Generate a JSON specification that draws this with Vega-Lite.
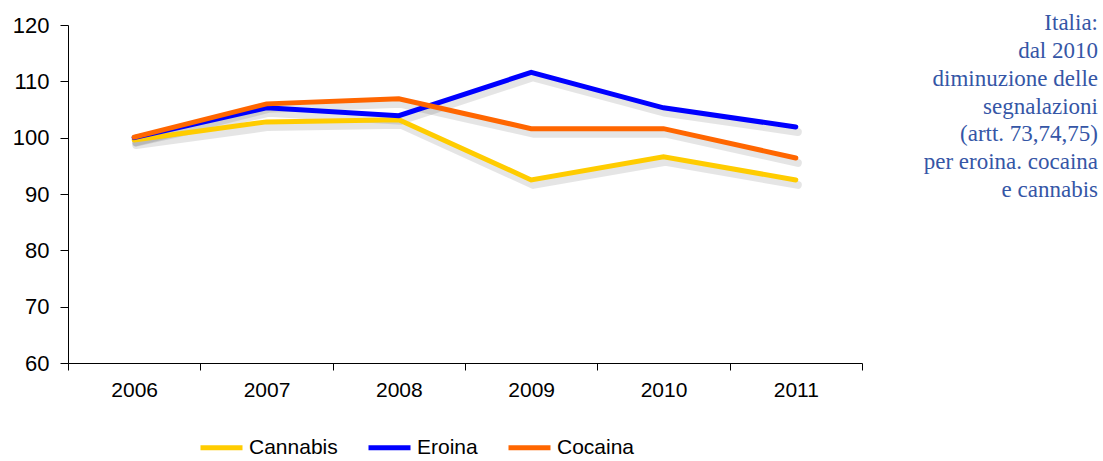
{
  "$schema": "https://vega.github.io/schema/vega-lite/v6.json",
  "autosize": {"type": "none"},
  "width": 794,
  "height": 338,
  "padding": {"left": 68, "top": 25, "right": 241, "bottom": 98},
  "background": "white",
  "config": {
    "view": {"stroke": null},
    "font": "Liberation Sans"
  },
  "title": {
    "text": ["Italia:", "dal 2010", "diminuzione delle", "segnalazioni", "(artt. 73,74,75)", "per eroina. cocaina", "e cannabis"],
    "orient": "top",
    "anchor": "end",
    "frame": "group",
    "align": "right",
    "baseline": "top",
    "dx": 236,
    "dy": 188,
    "offset": 0,
    "font": "Liberation Serif",
    "fontSize": 23,
    "fontWeight": "normal",
    "color": "#3556A6",
    "lineHeight": 27.8
  },
  "data": {
    "values": [
      {"year": "2006", "series": "Cannabis", "value": 99.6},
      {"year": "2007", "series": "Cannabis", "value": 102.8},
      {"year": "2008", "series": "Cannabis", "value": 103.2},
      {"year": "2009", "series": "Cannabis", "value": 92.5},
      {"year": "2010", "series": "Cannabis", "value": 96.6},
      {"year": "2011", "series": "Cannabis", "value": 92.5},
      {"year": "2006", "series": "Eroina", "value": 100},
      {"year": "2007", "series": "Eroina", "value": 105.3},
      {"year": "2008", "series": "Eroina", "value": 103.9},
      {"year": "2009", "series": "Eroina", "value": 111.6},
      {"year": "2010", "series": "Eroina", "value": 105.3},
      {"year": "2011", "series": "Eroina", "value": 101.9},
      {"year": "2006", "series": "Cocaina", "value": 100.1},
      {"year": "2007", "series": "Cocaina", "value": 106},
      {"year": "2008", "series": "Cocaina", "value": 106.9},
      {"year": "2009", "series": "Cocaina", "value": 101.6},
      {"year": "2010", "series": "Cocaina", "value": 101.6},
      {"year": "2011", "series": "Cocaina", "value": 96.4}
    ]
  },
  "encoding": {
    "x": {
      "field": "year",
      "type": "ordinal",
      "scale": {"type": "band", "paddingInner": 0, "paddingOuter": 0},
      "axis": {
        "title": null,
        "labelAngle": 0,
        "tickBand": "extent",
        "domainColor": "black",
        "tickColor": "black",
        "tickSize": 7,
        "labelFontSize": 21,
        "labelColor": "black",
        "labelPadding": 9,
        "grid": false
      }
    },
    "y": {
      "field": "value",
      "type": "quantitative",
      "scale": {"domain": [60, 120], "nice": false, "zero": false},
      "axis": {
        "title": null,
        "values": [60, 70, 80, 90, 100, 110, 120],
        "domainColor": "black",
        "tickColor": "black",
        "tickSize": 8,
        "labelFontSize": 22,
        "labelColor": "black",
        "labelPadding": 11,
        "grid": false
      }
    }
  },
  "layer": [
    {
      "mark": {"type": "line", "stroke": "#000000", "opacity": 0.1, "strokeWidth": 8, "xOffset": 2, "yOffset": 5, "strokeCap": "round", "strokeJoin": "round"},
      "encoding": {"detail": {"field": "series"}}
    },
    {
      "mark": {"type": "line", "strokeWidth": 5, "strokeCap": "round", "strokeJoin": "miter"},
      "encoding": {
        "color": {
          "field": "series",
          "type": "nominal",
          "scale": {"domain": ["Cannabis", "Eroina", "Cocaina"], "range": ["#FFCC00", "#0000FF", "#FF6600"]},
          "legend": {
            "title": null,
            "orient": "none",
            "legendX": 130,
            "legendY": 399,
            "direction": "horizontal",
            "symbolType": "stroke",
            "symbolStrokeWidth": 5,
            "symbolSize": 1764,
            "labelFontSize": 21,
            "labelColor": "black",
            "columnPadding": 20,
            "labelOffset": 4
          }
        }
      }
    }
  ]
}
